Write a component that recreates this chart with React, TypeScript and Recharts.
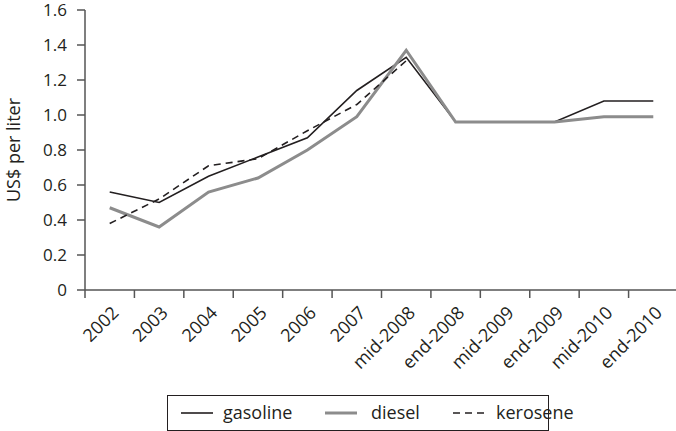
import { LineChart, Line, XAxis, YAxis, Legend } from "recharts";

const categories = ["2002", "2003", "2004", "2005", "2006", "2007", "mid-2008", "end-2008", "mid-2009", "end-2009", "mid-2010", "end-2010"];
const seriesNames = ["gasoline", "diesel", "kerosene"];
const gasoline = [0.56, 0.5, 0.65, 0.76, 0.87, 1.14, 1.33, 0.96, 0.96, 0.96, 1.08, 1.08];
const diesel = [0.47, 0.36, 0.56, 0.64, 0.8, 0.99, 1.37, 0.96, 0.96, 0.96, 0.99, 0.99];
const kerosene = [0.38, 0.52, 0.71, 0.75, 0.91, 1.06, 1.31, null, null, null, null, null];
const yTicks = [0, 0.2, 0.4, 0.6, 0.8, 1.0, 1.2, 1.4, 1.6];

const data = categories.map((c, i) => ({
  year: c,
  gasoline: gasoline[i],
  diesel: diesel[i],
  kerosene: kerosene[i],
}));

const CHART_W = 678;
const CHART_H = 431;
const Y_AXIS_W = 85;
const STEP = (CHART_W - Y_AXIS_W) / categories.length;
const INK = "#231f20";
const AXIS = "#555555";
const FONT = "'Open Sans', sans-serif";

// tick marks sit on the category boundaries, labels are turned 45 degrees
function XTick(props: any) {
  const { x, y, payload, index } = props;
  const last = index === categories.length - 1;
  return (
    <g>
      <line x1={x - STEP / 2} y1={y} x2={x - STEP / 2} y2={y + 8} stroke={AXIS} strokeWidth={1.5} />
      {last && <line x1={x + STEP / 2} y1={y} x2={x + STEP / 2} y2={y + 8} stroke={AXIS} strokeWidth={1.5} />}
      <text
        transform={`translate(${x + 10},${y + 24}) rotate(-45)`}
        textAnchor="end"
        fontSize={18}
        fontFamily={FONT}
        fill={INK}
      >
        {payload.value}
      </text>
    </g>
  );
}

function YLabel(props: any) {
  const { viewBox } = props;
  const cx = viewBox.x + 20;
  const cy = viewBox.y + viewBox.height / 2;
  return (
    <text transform={`translate(${cx},${cy}) rotate(-90)`} textAnchor="middle" fontSize={18} fontFamily={FONT} fill={INK}>
      US$ per liter
    </text>
  );
}

const legendLayout = [
  { line: 13, text: 55 },
  { line: 157, text: 203 },
  { line: 285, text: 328 },
];

function LegendBox(props: any) {
  const items = [...(props.payload || [])].sort(
    (a: any, b: any) => seriesNames.indexOf(a.value) - seriesNames.indexOf(b.value)
  );
  return (
    <div
      style={{
        position: "relative",
        width: 382,
        height: 36,
        boxSizing: "border-box",
        border: `1.5px solid ${INK}`,
        fontFamily: FONT,
        fontSize: 18,
        color: INK,
      }}
    >
      {items.map((p: any, i: number) => {
        const pos = legendLayout[i];
        return (
          <div key={p.value}>
            <svg style={{ position: "absolute", left: pos.line, top: 11 }} width={32} height={12}>
              <line
                x1={0}
                y1={6}
                x2={32}
                y2={6}
                stroke={p.color}
                strokeWidth={p.payload?.strokeWidth}
                strokeDasharray={p.payload?.strokeDasharray}
              />
            </svg>
            <span style={{ position: "absolute", left: pos.text, top: 4, lineHeight: "24px" }}>{p.value}</span>
          </div>
        );
      })}
    </div>
  );
}

export default function App() {
  return (
    <div style={{ position: "fixed", left: 0, top: 0, width: 676, height: 431, overflow: "hidden", background: "#fff" }}>
      <LineChart width={CHART_W} height={CHART_H} data={data} margin={{ top: 10, right: 0, left: 0, bottom: 0 }}>
        <XAxis
          dataKey="year"
          interval={0}
          tick={<XTick />}
          tickLine={false}
          tickSize={0}
          tickMargin={0}
          height={105}
          padding={{ left: STEP / 2, right: STEP / 2 }}
          axisLine={{ stroke: AXIS, strokeWidth: 1.5 }}
        />
        <YAxis
          width={Y_AXIS_W}
          domain={[0, 1.6]}
          ticks={yTicks}
          tickSize={8}
          tickMargin={10}
          tickFormatter={(v: number) => (v === 0 ? "0" : v.toFixed(1))}
          tick={{ fontSize: 17, fontFamily: FONT, fill: INK }}
          tickLine={{ stroke: AXIS, strokeWidth: 1.5 }}
          axisLine={{ stroke: AXIS, strokeWidth: 1.5 }}
          label={<YLabel />}
        />
        <Legend
          verticalAlign="bottom"
          content={<LegendBox />}
          wrapperStyle={{ left: 167, top: 395, width: 382, bottom: "auto" }}
        />
        <Line dataKey="gasoline" name="gasoline" stroke={INK} strokeWidth={1.6} dot={false} isAnimationActive={false} />
        <Line dataKey="diesel" name="diesel" stroke="#8c8c8c" strokeWidth={3} dot={false} isAnimationActive={false} />
        <Line
          dataKey="kerosene"
          name="kerosene"
          stroke={INK}
          strokeWidth={1.6}
          strokeDasharray="7 5"
          dot={false}
          isAnimationActive={false}
        />
      </LineChart>
    </div>
  );
}
